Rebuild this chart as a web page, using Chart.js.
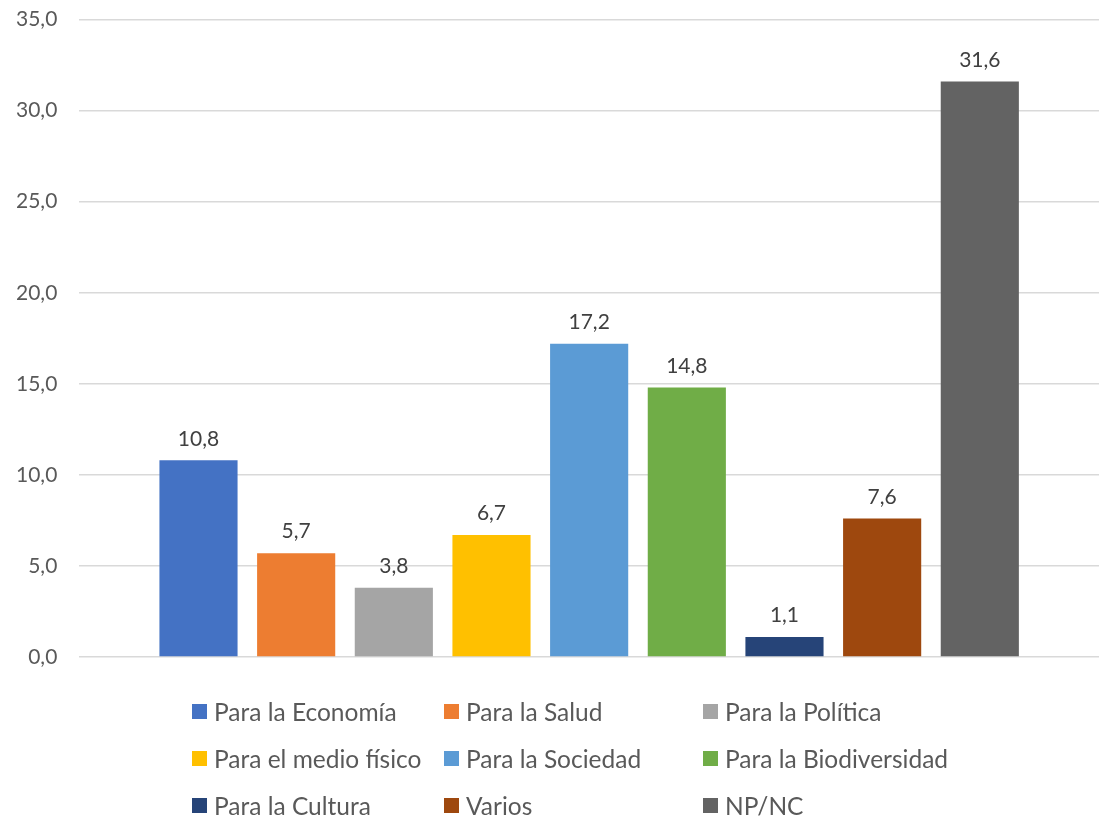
<!DOCTYPE html>
<html>
<head>
<meta charset="utf-8">
<script src="https://cdn.jsdelivr.net/npm/chart.js@4/dist/chart.umd.min.js"></script>
<style>
  html, body { margin: 0; padding: 0; background: #fff; overflow: hidden; }
  #wrap { position: relative; width: 1099px; height: 819px; overflow: hidden; }
  #c { position: absolute; left: 0; top: -15px; }
  #legend {
    position: absolute; left: 192px; top: 688px;
    display: grid; grid-template-columns: 252px 259px 260px;
    grid-auto-rows: 47px;
    font-family: Lato, "Open Sans", sans-serif; font-size: 24.5px; color: #595959;
  }
  .item { display: flex; align-items: center; height: 47px; white-space: nowrap; }
  .sw { width: 15px; height: 15px; margin-right: 7px; flex: none; }
</style>
</head>
<body>
<div id="wrap">
  <canvas id="c" width="1099" height="834"></canvas>
  <div id="legend"></div>
</div>
<script>
const seriesLabels = ["Para la Economía", "Para la Salud", "Para la Política", "Para el medio físico", "Para la Sociedad", "Para la Biodiversidad", "Para la Cultura", "Varios", "NP/NC"];
const seriesValues = [10.8, 5.7, 3.8, 6.7, 17.2, 14.8, 1.1, 7.6, 31.6];
const seriesColors = ["#4472C4", "#ED7D31", "#A5A5A5", "#FFC000", "#5B9BD5", "#70AD47", "#264478", "#9E480E", "#636363"];
const yTickMax = 35;
const yTickStep = 5;

const fmt = v => v.toFixed(1).replace('.', ',');

const datasets = seriesLabels.map((lab, i) => ({
  label: lab,
  data: [seriesValues[i]],
  backgroundColor: seriesColors[i],
  borderWidth: 0,
  categoryPercentage: 0.862,
  barPercentage: 0.8
}));

const valueLabels = {
  id: 'valueLabels',
  afterDatasetsDraw(chart) {
    const ctx = chart.ctx;
    ctx.save();
    ctx.font = '21px Lato, "Open Sans", sans-serif';
    ctx.fillStyle = '#404040';
    ctx.textAlign = 'center';
    ctx.textBaseline = 'bottom';
    chart.data.datasets.forEach((ds, i) => {
      const meta = chart.getDatasetMeta(i);
      meta.data.forEach((el, j) => {
        ctx.fillText(fmt(ds.data[j]), el.x, el.y - 11);
      });
    });
    ctx.restore();
  }
};

const chart = new Chart(document.getElementById('c'), {
  type: 'bar',
  data: { labels: [''], datasets },
  options: {
    responsive: false,
    animation: false,
    layout: { padding: { left: -6, right: 0, top: 0, bottom: 162 } },
    plugins: { legend: { display: false }, tooltip: { enabled: false } },
    scales: {
      x: { display: false, grid: { display: false } },
      y: {
        min: 0, max: yTickMax,
        border: { display: false },
        grid: { color: '#D9D9D9', lineWidth: 1.5, drawTicks: false },
        ticks: {
          stepSize: yTickStep, padding: 22, color: '#595959',
          font: { family: 'Lato, "Open Sans", sans-serif', size: 21 },
          callback: v => fmt(v)
        }
      }
    }
  },
  plugins: [valueLabels]
});

const legend = document.getElementById('legend');
chart.data.datasets.forEach(ds => {
  const d = document.createElement('div');
  d.className = 'item';
  const s = document.createElement('span');
  s.className = 'sw';
  s.style.background = ds.backgroundColor;
  const t = document.createElement('span');
  t.textContent = ds.label;
  d.appendChild(s); d.appendChild(t);
  legend.appendChild(d);
});
</script>
</body>
</html>
